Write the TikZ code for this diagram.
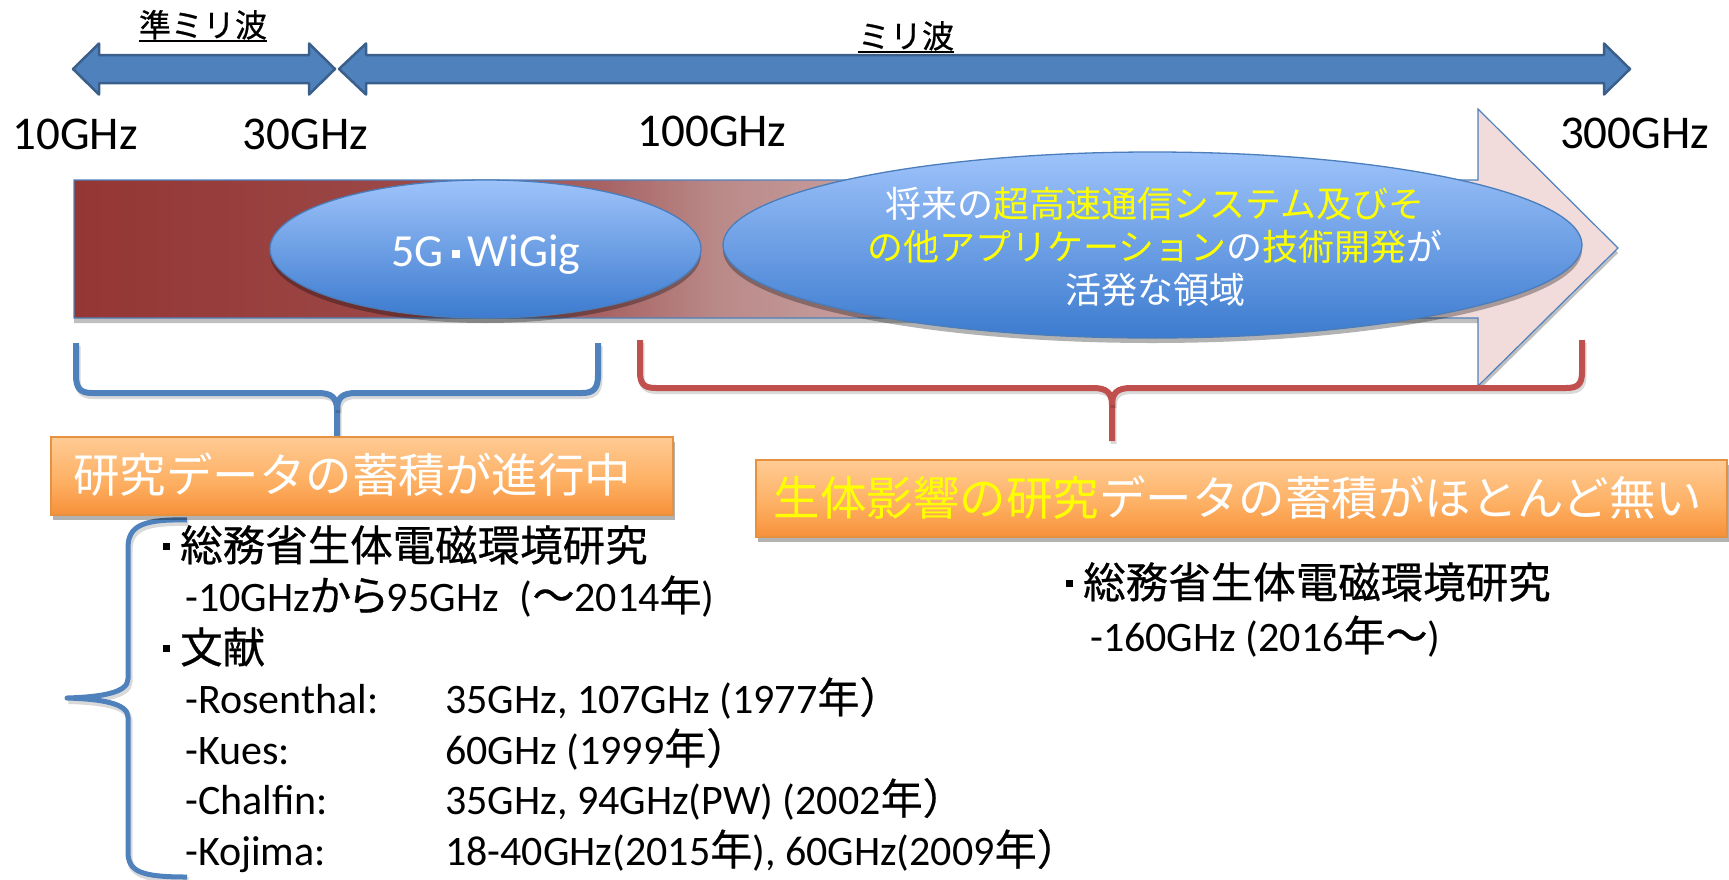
\documentclass[tikz,border=0pt]{standalone}
\usepackage{fontspec}
\setmainfont{Carlito}
\newfontfamily\jp{Noto Sans CJK JP}
\newfontfamily\jpk[FakeBold=0.6]{Noto Sans CJK JP}
\newfontfamily\jpkp[FakeBold=0.6,RawFeature=+palt]{Noto Sans CJK JP}
\usetikzlibrary{shapes.geometric,shadows,calc}
\definecolor{arfill}{HTML}{4F81BD}
\definecolor{arline}{HTML}{3A5F8B}
\definecolor{ar0}{HTML}{943634}
\definecolor{ar1}{HTML}{9C4B4A}
\definecolor{ar2}{HTML}{A76262}
\definecolor{ar3}{HTML}{BA8A89}
\definecolor{ar4}{HTML}{C9A3A3}
\definecolor{ar5}{HTML}{F2DCDB}
\definecolor{elltop}{HTML}{9EC3FA}
\definecolor{ellbot}{HTML}{3C7BCF}
\definecolor{elldraw}{HTML}{4A7DBA}
\definecolor{ot}{HTML}{FFCB94}
\definecolor{om}{HTML}{FDAE60}
\definecolor{ob}{HTML}{F6903A}
\definecolor{odraw}{HTML}{E5913F}
\definecolor{bblue}{HTML}{4F81BD}
\definecolor{bred}{HTML}{C0504D}
\definecolor{yel}{HTML}{FFFF00}
\pgfdeclarehorizontalshading{bigarrowshade}{100bp}{color(0bp)=(ar0); color(25bp)=(ar0); color(37.2bp)=(ar1); color(42bp)=(ar2); color(45.9bp)=(ar3); color(51.7bp)=(ar4); color(70.5bp)=(ar5); color(100bp)=(ar5)}
\pgfdeclareverticalshading{orangeshade}{100bp}{color(0bp)=(ob); color(25bp)=(ob); color(45bp)=(om); color(75bp)=(ot); color(100bp)=(ot)}
\newcommand{\sqbullet}{\rule[11pt]{7pt}{7pt}\hspace{10pt}}
\newcommand{\wdot}{\hspace{8pt}\rule[8pt]{8pt}{8pt}\hspace{8pt}}
\begin{document}
\begin{tikzpicture}[x=1pt,y=-1pt,
  dblarrow/.style={fill=arfill, draw=arline, line width=2.5pt, line join=round},
  toplbl/.style={font=\jpk\fontsize{32}{38}\selectfont, anchor=base, inner sep=0pt},
  ulstyle/.style={draw=black, line width=1.8pt},
  ghz/.style={font=\fontsize{47}{56}\selectfont, anchor=base, inner sep=0pt},
  ell/.style={ellipse, inner sep=0pt, top color=elltop, bottom color=ellbot, draw=elldraw, line width=1.3pt,
    drop shadow={shadow xshift=0pt, shadow yshift=-5pt, opacity=0.3, fill=black}},
  obox/.style={rectangle, inner sep=0pt, shading=orangeshade, draw=odraw, line width=1.2pt,
    drop shadow={shadow xshift=2pt, shadow yshift=-5pt, opacity=0.3, fill=black}},
  btext/.style={font=\jp\fontsize{46.5}{52}\selectfont, text=white, inner sep=0pt, anchor=center},
  brace/.style={line width=6pt, line join=round,
    preaction={draw=black, opacity=0.15, line width=6pt, transform canvas={xshift=1.5pt, yshift=-3pt}}},
  body/.style={font=\fontsize{42}{50}\selectfont, anchor=base west, inner sep=0pt},
  jbody/.style={font=\jpk\fontsize{42.5}{50}\selectfont, anchor=base west, inner sep=0pt}
]
\useasboundingbox (0,0) rectangle (1729,879);

% top double arrows
\draw[dblarrow] (73,69) -- (99,43.5) -- (99,55) -- (309,55) -- (309,43.5) -- (335,69) -- (309,94.5) -- (309,83) -- (99,83) -- (99,94.5) -- cycle;
\draw[dblarrow] (339,69) -- (366,43.5) -- (366,55) -- (1604,55) -- (1604,43.5) -- (1630,69) -- (1604,94.5) -- (1604,83) -- (366,83) -- (366,94.5) -- cycle;

\node[toplbl] (jm) at (203,37) {準ミリ波};
\draw[ulstyle] ([yshift=-4pt]jm.base west) -- ([yshift=-4pt]jm.base east);
\node[toplbl] (mm) at (906,48) {ミリ波};
\draw[ulstyle] ([yshift=-4pt]mm.base west) -- ([yshift=-4pt]mm.base east);

% frequency labels
\node[ghz] (f10) at (75,149) {10GHz};
\node[ghz] (f30) at (305.5,149) {30GHz};
\node[ghz] (f100) at (712,146) {100GHz};
\node[ghz] (f300) at (1634.5,148) {300GHz};

% big gradient arrow
\shade[shading=bigarrowshade, draw=bblue, line width=1.2pt,
  drop shadow={shadow xshift=0pt, shadow yshift=-5pt, opacity=0.25, fill=black}]
  (74,180) -- (1478,180) -- (1478,109) -- (1618,248) -- (1478,386) -- (1478,318) -- (74,318) -- cycle;

% ellipses
\node[ell, minimum width=431pt, minimum height=138pt] (e5g) at (485.5,249) {};
\node[font=\fontsize{46}{52}\selectfont, text=white, inner sep=0pt, anchor=base] (t5g) at (486,266) {5G\wdot WiGig};
\node[ell, minimum width=859pt, minimum height=186pt] (ebig) at (1152.5,245) {};
\node[font=\jp\fontsize{36}{43}\selectfont, text=white, align=center, inner sep=0pt] (tbig) at (1155,247)
  {将来の\textcolor{yel}{超高速通信システム及びそ}\\\textcolor{yel}{の他アプリケーション}の\textcolor{yel}{技術開発}が\\活発な領域};

% braces
\draw[brace, draw=bblue] (76,343) -- (76,375) .. controls (76,388) and (80,393) .. (92,393) -- (318,393) .. controls (332,393) and (337,398) .. (337,410) -- (337,437);
\draw[brace, draw=bblue] (598,343) -- (598,375) .. controls (598,388) and (594,393) .. (582,393) -- (356,393) .. controls (342,393) and (337,398) .. (337,410);
\draw[brace, draw=bred] (640,340) -- (640,372) .. controls (640,384) and (644,388) .. (656,388) -- (1093,388) .. controls (1107,388) and (1112,393) .. (1112,405) -- (1112,441);
\draw[brace, draw=bred] (1582,340) -- (1582,372) .. controls (1582,384) and (1578,388) .. (1566,388) -- (1131,388) .. controls (1117,388) and (1112,393) .. (1112,405);
\draw[brace, draw=bblue, line width=5pt] (187,520) .. controls (142,519) and (128,526) .. (128,548) -- (128,679) .. controls (128,693) and (100,697) .. (67,698) .. controls (100,699) and (128,703) .. (128,717) -- (128,852) .. controls (128,872) and (142,877) .. (187,877);

% orange boxes
\node[obox, minimum width=622pt, minimum height=78pt] (b1) at (362,476) {};
\node[btext] (b1t) at (352,475) {研究データの蓄積が進行中};
\node[obox, minimum width=971pt, minimum height=77pt] (b2) at (1241.5,498.5) {};
\node[btext] (b2t) at (1238,498) {\textcolor{yel}{生体影響の研究}データの蓄積がほとんど無い};

% left text block
\node[jbody] (l1) at (163,561) {\sqbullet 総務省生体電磁環境研究};
\node[body] (l2) at (185,611) {-10GHz{\jpkp から}95GHz\hspace{21pt}({\jpk 〜}2014{\jpk 年})};
\node[jbody] (l3) at (163,663) {\sqbullet 文献};
\node[body] (l4a) at (185,713) {-Rosenthal:};
\node[body] (l4b) at (445,713) {35GHz, 107GHz (1977{\jpk 年）}};
\node[body] (l5a) at (185,764) {-Kues:};
\node[body] (l5b) at (445,764) {60GHz (1999{\jpk 年）}};
\node[body] (l6a) at (185,814) {-Chalfin:};
\node[body] (l6b) at (445,814) {35GHz, 94GHz(PW) (2002{\jpk 年）}};
\node[body] (l7a) at (185,865) {-Kojima:};
\node[body] (l7b) at (445,865) {18-40GHz(2015{\jpk 年}), 60GHz(2009{\jpk 年）}};

% right text block
\node[jbody] (r1) at (1066,598) {\sqbullet 総務省生体電磁環境研究};
\node[body] (r2) at (1090,651) {-160GHz (2016{\jpk 年〜})};
\end{tikzpicture}
\end{document}
